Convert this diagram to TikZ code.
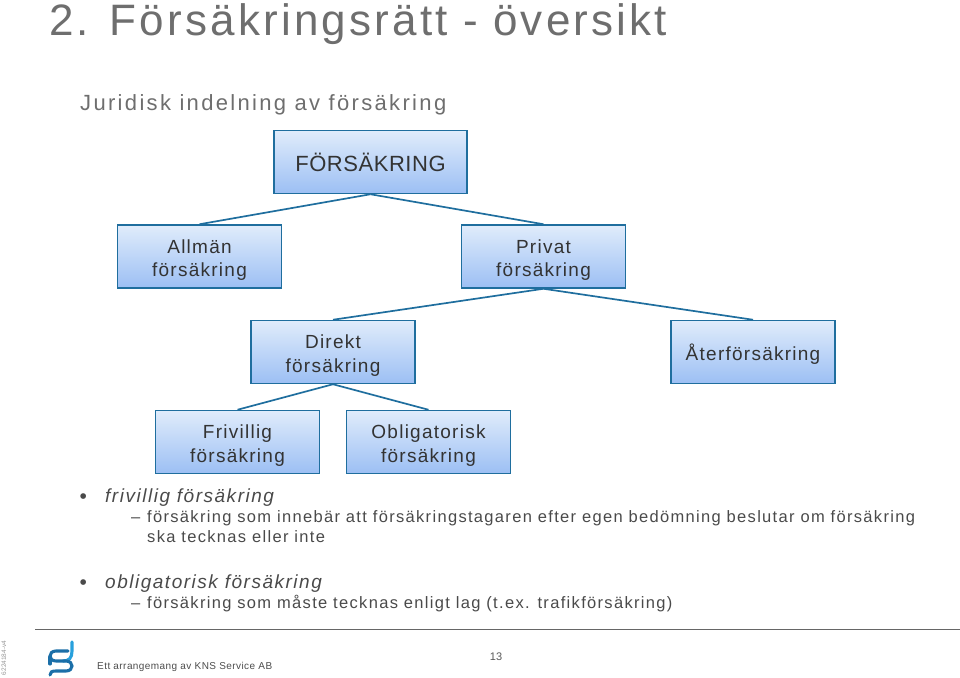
\documentclass[tikz,border=0pt]{standalone}
\usepackage{fontspec}
\usepackage{tikz}
\usepackage{xcolor}
\setmainfont{Liberation Sans}
\newfontfamily\boxfont[LetterSpace=6.6]{Liberation Sans}
\newfontfamily\rootfont[LetterSpace=2.5]{Liberation Sans}
\newfontfamily\bodyfont[LetterSpace=8]{Liberation Sans}
\newfontfamily\subfont[LetterSpace=10.6]{Liberation Sans}
\newfontfamily\titlefont[LetterSpace=7.25]{Liberation Sans}
\newfontfamily\footfont[LetterSpace=4.3]{Liberation Sans}
\newcommand{\twolift}{\rule{0pt}{21pt}}
\newcommand{\onelift}{\rule{0pt}{21.5pt}}
\definecolor{boxline}{HTML}{1F6E9E}
\definecolor{boxtop}{HTML}{E0ECFB}
\definecolor{boxbottom}{HTML}{9CBFF4}
\definecolor{greytext}{HTML}{4A4A4A}
\definecolor{titlegrey}{HTML}{6E6E6E}
\definecolor{logodark}{HTML}{1B6FA8}
\definecolor{logolight}{HTML}{28A0DC}
\tikzset{
  treebox/.style={draw=boxline,line width=1.5pt,top color=boxtop,bottom color=boxbottom,
    minimum width=164pt,minimum height=63pt,inner sep=0pt,align=center,text=black!80,
    font=\boxfont\fontsize{19}{23.5}\selectfont},
  treeline/.style={draw=boxline,line width=1.7pt},
  bodytext/.style={anchor=base west,inner sep=0pt,text=greytext,font=\bodyfont\fontsize{16.5}{20}\selectfont},
  itemtext/.style={anchor=base west,inner sep=0pt,text=greytext,font=\bodyfont\itshape\fontsize{19}{23}\selectfont},
  bulletmark/.style={anchor=base west,inner sep=0pt,text=greytext,font=\fontsize{21}{21}\selectfont},
  logoline/.style={line width=3.1pt,line cap=round},
}
\begin{document}
\begin{tikzpicture}[x=1pt,y=-1pt]
\useasboundingbox (0,0) rectangle (960,677);
% heading
\node[anchor=base west,inner sep=0pt,text=titlegrey,font=\titlefont\fontsize{44}{50}\selectfont] (title) at (49,36) {2. Försäkringsrätt - översikt};
\node[anchor=base west,inner sep=0pt,text=titlegrey,font=\subfont\fontsize{22}{25}\selectfont] (subtitle) at (80,110) {Juridisk indelning av försäkring};
% tree
\node[treebox,minimum width=193pt,font=\rootfont\fontsize{22}{26}\selectfont] (forsakring) at (370.5,162) {FÖRSÄKRING};
\node[treebox] (allman) at (199.5,256.5) {\twolift Allmän\\försäkring};
\node[treebox] (privat) at (543.5,256.5) {\twolift Privat\\försäkring};
\node[treebox] (direkt) at (333,352) {\twolift Direkt\\försäkring};
\node[treebox] (ater) at (753,352) {\onelift Återförsäkring};
\node[treebox] (frivillig) at (237.5,442) {\twolift Frivillig\\försäkring};
\node[treebox] (obligatorisk) at (428.5,442) {\twolift Obligatorisk\\försäkring};
\draw[treeline] (forsakring.south)--(allman.north);
\draw[treeline] (forsakring.south)--(privat.north);
\draw[treeline] (privat.south)--(direkt.north);
\draw[treeline] (privat.south)--(ater.north);
\draw[treeline] (direkt.south)--(frivillig.north);
\draw[treeline] (direkt.south)--(obligatorisk.north);
% text below the tree
\node[bulletmark] (bulletone) at (79.5,503.5) {•};
\node[itemtext] (itemone) at (105,502) {frivillig försäkring};
\node[bodytext] (dashone) at (131,522) {–};
\node[bodytext] (lineone) at (147,522) {försäkring som innebär att försäkringstagaren efter egen bedömning beslutar om försäkring};
\node[bodytext] (linetwo) at (147,542) {ska tecknas eller inte};
\node[bulletmark] (bullettwo) at (79.5,589) {•};
\node[itemtext] (itemtwo) at (105,588) {obligatorisk försäkring};
\node[bodytext] (dashtwo) at (131,608) {–};
\node[bodytext] (linethree) at (147,608) {försäkring som måste tecknas enligt lag (t.ex. trafikförsäkring)};
% footer
\draw[line width=1.5pt,black!60] (35,629.5)--(960,629.5);
\node[rotate=90,inner sep=0pt,text=black!40,font=\fontsize{6.5}{7}\selectfont] (docno) at (4,658) {6224184-v4};
\node[anchor=base west,inner sep=0pt,text=black!70,font=\footfont\fontsize{10}{13}\selectfont] (arrangor) at (97,669) {Ett arrangemang av KNS Service AB};
\node[inner sep=0pt,text=black!65,font=\fontsize{11}{13}\selectfont] (pageno) at (496,657) {13};
% logo
\draw[logoline,logolight] (72,642) -- (72,651) .. controls (72,658) and (69,661) .. (63,661);
\draw[logoline,logodark] (68,651) -- (56,651) .. controls (48,651) and (48,661) .. (56,661) -- (66,661) .. controls (74,661) and (74,671) .. (66,671) -- (56,671) .. controls (52,671) and (50,672) .. (50,675);
\draw[logoline,logodark] (50,657) -- (50,664);
\end{tikzpicture}
\end{document}
